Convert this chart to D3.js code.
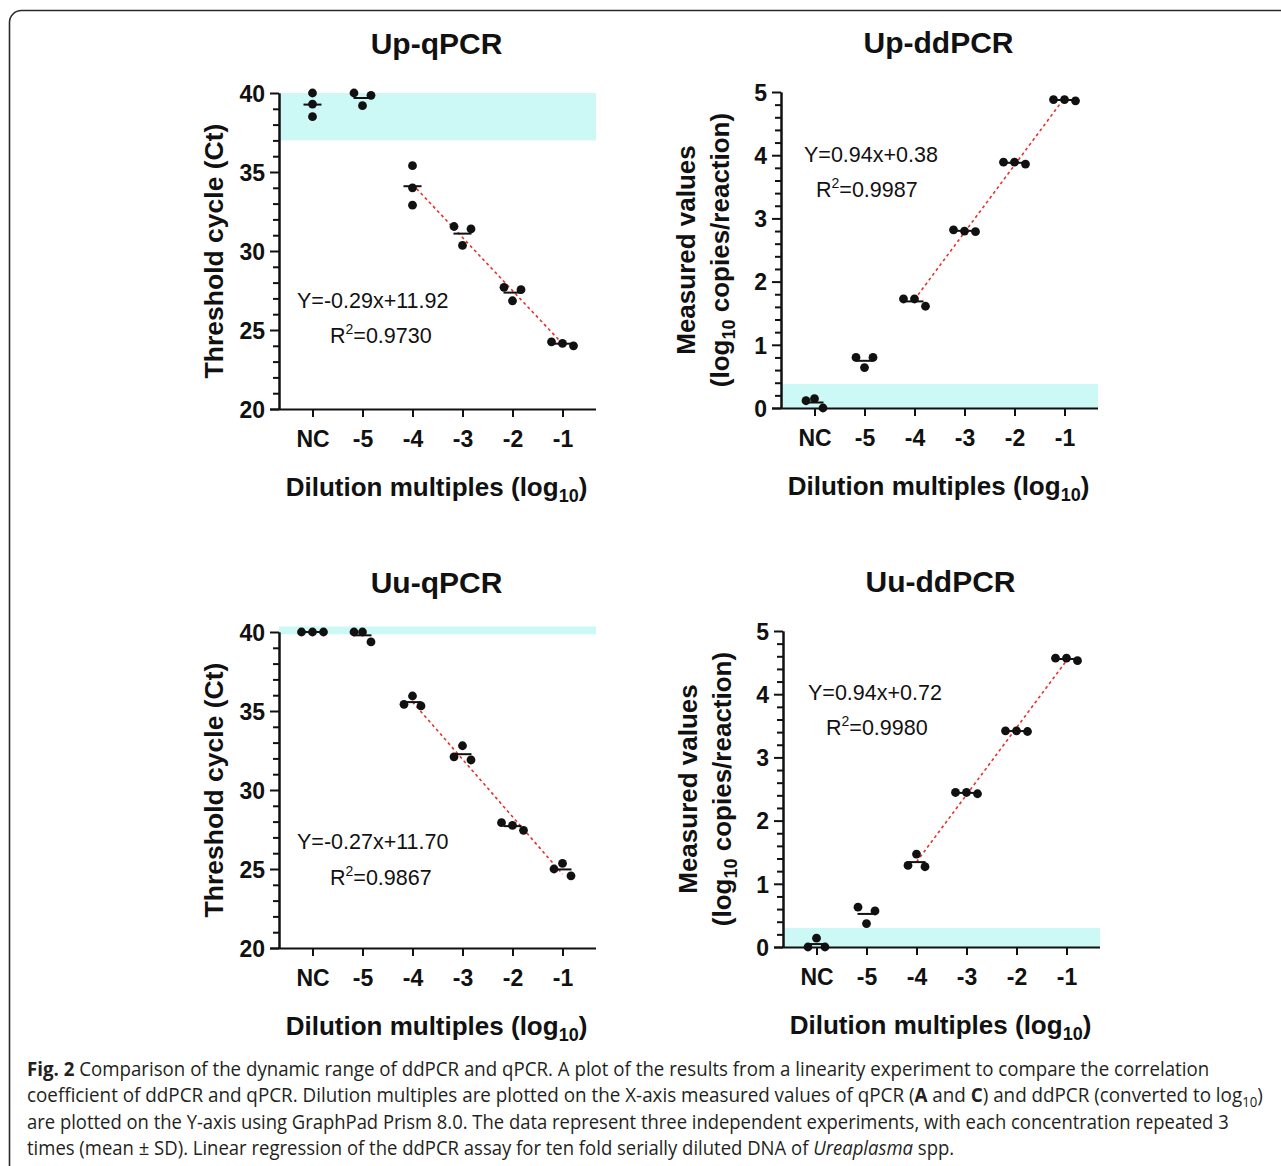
<!DOCTYPE html>
<html>
<head>
<meta charset="utf-8">
<title>Comparison of the dynamic range of ddPCR and qPCR</title>
<style>
  body { margin: 0; background: #fff; }
  svg text { font-family: 'Liberation Sans', Arial, sans-serif; fill: #111; }
  .caption text { font-family: 'Open Sans', sans-serif; fill: #231f20; }
  .axis path, .axis line { stroke: #111; stroke-width: 2; }
</style>
</head>
<body>
<div id="chart"></div>
<script src="https://cdnjs.cloudflare.com/ajax/libs/d3/7.8.5/d3.min.js"></script>
<script>
var categories = ['NC', '-5', '-4', '-3', '-2', '-1'];

// three replicates per dilution, in the left / middle / right order of the dot plot
var upQpcr  = [[40.0, 39.3, 38.5], [40.0, 39.2, 39.85], [35.4, 34.0, 32.9], [31.55, 30.35, 31.4], [27.7, 26.85, 27.55], [24.25, 24.15, 24.0]];
var upDdpcr = [[0.115, 0.147, 0.0], [0.8, 0.64, 0.8], [1.725, 1.725, 1.61], [2.82, 2.80, 2.79], [3.89, 3.89, 3.86], [4.88, 4.88, 4.86]];
var uuQpcr  = [[40, 40, 40], [40, 40, 39.37], [35.42, 35.95, 35.32], [32.1, 32.8, 31.9], [27.93, 27.76, 27.45], [25.0, 25.35, 24.57]];
var uuDdpcr = [[0, 0.14, 0], [0.63, 0.37, 0.57], [1.29, 1.47, 1.27], [2.445, 2.445, 2.425], [3.42, 3.42, 3.41], [4.57, 4.57, 4.53]];

var qpcrTicks = [20, 25, 30, 35, 40];
var ddpcrTicks = [0, 1, 2, 3, 4, 5];
var titles = ['Up-qPCR', 'Up-ddPCR', 'Uu-qPCR', 'Uu-ddPCR'];
var equations = ['Y=-0.29x+11.92', 'Y=0.94x+0.38', 'Y=-0.27x+11.70', 'Y=0.94x+0.72'];
var rSquared = ['0.9730', '0.9987', '0.9867', '0.9980'];
var lodBands = [[37, 40], [0, 0.38], [39.85, 40.35], [0, 0.3]];
var fitFrom = ['-4', '-3', '-2', '-1'];

var captionLines = [
    [{t: 'Fig. 2', b: 1}, {t: ' Comparison of the dynamic range of ddPCR and qPCR. A plot of the results from a linearity experiment to compare the correlation'}],
    [{t: 'coefficient of ddPCR and qPCR. Dilution multiples are plotted on the X-axis measured values of qPCR ('}, {t: 'A', b: 1}, {t: ' and '}, {t: 'C', b: 1}, {t: ') and ddPCR (converted to log'}, {t: '10', sub: 1}, {t: ')'}],
    [{t: 'are plotted on the Y-axis using GraphPad Prism 8.0. The data represent three independent experiments, with each concentration repeated 3'}],
    [{t: 'times (mean \u00b1 SD). Linear regression of the ddPCR assay for ten fold serially diluted DNA of '}, {t: 'Ureaplasma', i: 1}, {t: ' spp.'}]
];
var captionWidths = [1183, 1237, 1203, 928];

var W = 1281, H = 1166;
var plotW = 317, plotH = 316;
var bandColor = '#ccf8f6';

var panels = [
    {data: upQpcr,  ticks: qpcrTicks,  minor: 1,   kind: 'q', x0: 279, y0: 93,  eq: [18, 215, 51, 250]},
    {data: upDdpcr, ticks: ddpcrTicks, minor: 0.2, kind: 'd', x0: 781, y0: 92,  eq: [23, 70, 35, 105]},
    {data: uuQpcr,  ticks: qpcrTicks,  minor: 1,   kind: 'q', x0: 279, y0: 632, eq: [18, 217, 51, 253]},
    {data: uuDdpcr, ticks: ddpcrTicks, minor: 0.2, kind: 'd', x0: 783, y0: 631, eq: [25, 69, 43, 104]}
];

var svg = d3.select('#chart').append('svg')
    .attr('width', W)
    .attr('height', H);

// frame of the figure box
svg.append('rect')
    .attr('x', 9.5).attr('y', 10.5)
    .attr('width', 1300).attr('height', 1180)
    .attr('rx', 12)
    .attr('fill', 'none')
    .attr('stroke', '#2a2a2a')
    .attr('stroke-width', 1.6);

function spread(vals, y) {
    var py = vals.map(y), hit = false, maxd = 0;
    for (var i = 0; i < py.length; i++) {
        for (var j = i + 1; j < py.length; j++) {
            var d = Math.abs(py[i] - py[j]);
            if (d < 9) hit = true;
            maxd = Math.max(maxd, d);
        }
    }
    if (!hit) return vals.map(function() { return 0; });
    var step = maxd < 8 ? 11 : 8.5;
    return vals.map(function(v, i) { return (i - 1) * step; });
}

panels.forEach(function(p, k) {
    var g = svg.append('g').attr('transform', 'translate(' + p.x0 + ',' + p.y0 + ')');
    var lo = p.ticks[0], hi = p.ticks[p.ticks.length - 1];

    var x = d3.scalePoint().domain(categories).range([0, plotW]).padding(0.67);
    var y = d3.scaleLinear().domain([lo, hi]).range([plotH, 0]);

    // detection limit band
    g.append('rect')
        .attr('x', 0)
        .attr('y', y(lodBands[k][1]))
        .attr('width', plotW)
        .attr('height', y(lodBands[k][0]) - y(lodBands[k][1]))
        .attr('fill', bandColor);

    // linear fit over -4 .. -1
    var pts = [];
    fitFrom.forEach(function(c) {
        var idx = categories.indexOf(c);
        p.data[idx].forEach(function(v) { pts.push([+c, v]); });
    });
    var mx = d3.mean(pts, function(d) { return d[0]; });
    var my = d3.mean(pts, function(d) { return d[1]; });
    var slope = d3.sum(pts, function(d) { return (d[0] - mx) * (d[1] - my); }) /
                d3.sum(pts, function(d) { return (d[0] - mx) * (d[0] - mx); });
    var first = fitFrom[0], last = fitFrom[fitFrom.length - 1];
    g.append('line')
        .attr('x1', x(first)).attr('y1', y(my + slope * (+first - mx)))
        .attr('x2', x(last)).attr('y2', y(my + slope * (+last - mx)))
        .attr('stroke', '#e5322b')
        .attr('stroke-width', 1.6)
        .attr('stroke-dasharray', '3,3');

    // dots and mean lines
    p.data.forEach(function(vals, i) {
        var cx = x(categories[i]);
        var off = spread(vals, y);
        vals.forEach(function(v, j) {
            g.append('circle')
                .attr('cx', cx + off[j])
                .attr('cy', y(v))
                .attr('r', 4.4)
                .attr('fill', '#111');
        });
        var m = d3.mean(vals);
        g.append('line')
            .attr('x1', cx - 9).attr('x2', cx + 9)
            .attr('y1', y(m)).attr('y2', y(m))
            .attr('stroke', '#111')
            .attr('stroke-width', 2);
    });

    // axes
    var minorVals = d3.range(lo, hi + 1e-6, p.minor).filter(function(v) {
        return p.ticks.every(function(t) { return Math.abs(t - v) > 1e-6; });
    });
    g.append('g').attr('class', 'axis')
        .call(d3.axisLeft(y).tickValues(minorVals).tickSize(6).tickSizeOuter(0).tickFormat(''));
    var ya = g.append('g').attr('class', 'axis')
        .call(d3.axisLeft(y).tickValues(p.ticks).tickSize(9).tickSizeOuter(0).tickPadding(5)
            .tickFormat(d3.format('d')));
    ya.selectAll('text')
        .attr('font-size', 23)
        .attr('font-weight', 'bold')
        .attr('dy', '0.36em');

    var xa = g.append('g').attr('class', 'axis')
        .attr('transform', 'translate(0,' + plotH + ')')
        .call(d3.axisBottom(x).tickSize(8).tickSizeOuter(0));
    xa.select('.domain').attr('d', 'M-9,0.5H' + plotW);
    xa.selectAll('text')
        .attr('y', 38).attr('dy', null)
        .attr('font-size', 23)
        .attr('font-weight', 'bold');

    // title
    g.append('text')
        .attr('x', plotW / 2 - 1)
        .attr('y', -39)
        .attr('text-anchor', 'middle')
        .attr('font-size', 30)
        .attr('font-weight', 'bold')
        .text(titles[k]);

    // x axis title
    var xt = g.append('text')
        .attr('x', plotW / 2 - 1)
        .attr('y', plotH + 87)
        .attr('text-anchor', 'middle')
        .attr('font-size', 26)
        .attr('font-weight', 'bold');
    xt.append('tspan').text('Dilution multiples (log');
    xt.append('tspan').attr('font-size', 18).attr('dy', 6).text('10');
    xt.append('tspan').attr('dy', -6).text(')');

    // y axis title
    if (p.kind === 'q') {
        g.append('text')
            .attr('transform', 'translate(-66,' + (plotH / 2) + ') rotate(-90)')
            .attr('dy', '0.36em')
            .attr('text-anchor', 'middle')
            .attr('font-size', 26.5)
            .attr('font-weight', 'bold')
            .text('Threshold cycle (Ct)');
    } else {
        g.append('text')
            .attr('transform', 'translate(-95,' + (plotH / 2) + ') rotate(-90)')
            .attr('dy', '0.36em')
            .attr('text-anchor', 'middle')
            .attr('font-size', 26)
            .attr('font-weight', 'bold')
            .text('Measured values');
        var yt = g.append('text')
            .attr('transform', 'translate(-61,' + (plotH / 2) + ') rotate(-90)')
            .attr('dy', '0.36em')
            .attr('text-anchor', 'middle')
            .attr('font-size', 26)
            .attr('font-weight', 'bold');
        yt.append('tspan').text('(log');
        yt.append('tspan').attr('font-size', 18).attr('dy', 6).text('10');
        yt.append('tspan').attr('dy', -6).text(' copies/reaction)');
    }

    // regression annotation
    g.append('text')
        .attr('x', p.eq[0]).attr('y', p.eq[1])
        .attr('font-size', 21.5)
        .text(equations[k]);
    var r2 = g.append('text')
        .attr('x', p.eq[2]).attr('y', p.eq[3])
        .attr('font-size', 21.5);
    r2.append('tspan').text('R');
    r2.append('tspan').attr('font-size', 14).attr('dy', -9).text('2');
    r2.append('tspan').attr('dy', 9).text('=' + rSquared[k]);
});

// caption, each line squeezed horizontally to the width it has in the figure
var cap = svg.append('g').attr('class', 'caption');
captionLines.forEach(function(parts, i) {
    var line = cap.append('g');
    var t = line.append('text')
        .attr('x', 0)
        .attr('y', 0)
        .attr('font-size', 20);
    parts.forEach(function(s, j) {
        var ts = t.append('tspan').text(s.t);
        if (s.b) ts.attr('font-weight', 'bold');
        if (s.i) ts.attr('font-style', 'italic');
        if (s.sub) ts.attr('font-size', 14).attr('dy', 5);
        else if (j > 0 && parts[j - 1].sub) ts.attr('dy', -5);
    });
    var natural = t.node().getComputedTextLength();
    var sx = captionWidths[i] / natural;
    line.attr('transform', 'translate(27,' + (1076 + i * 26.3) + ') scale(' + sx + ',1)');
});
</script>
</body>
</html>
